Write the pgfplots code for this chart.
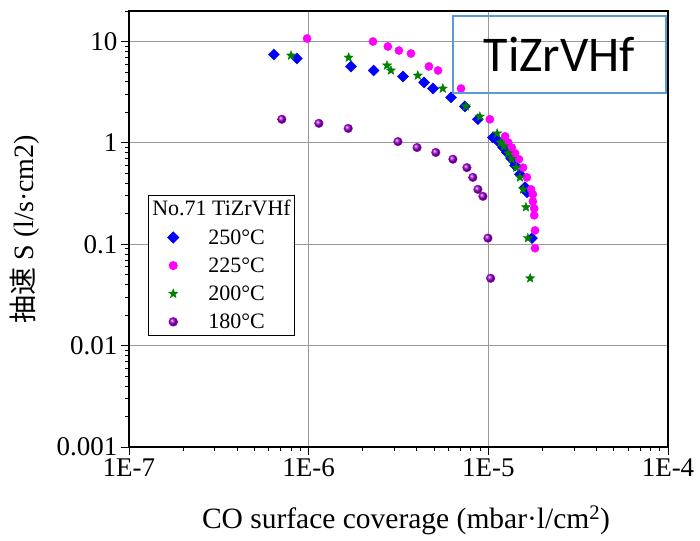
\documentclass[border=0pt]{standalone}
\usepackage{fontspec}
\setmainfont{Liberation Serif}
\newfontfamily\cjk{Noto Sans CJK SC}
\newfontfamily\carlito{Carlito}
\usepackage{pgfplots}
\pgfplotsset{compat=1.18}
\definecolor{boxblue}{HTML}{5B9BD5}
\definecolor{ballpurple}{HTML}{9900CC}
\definecolor{stargreen}{HTML}{008000}
\definecolor{mag}{HTML}{FF00FF}
\pgfdeclareplotmark{fstar}{%
  \pgfpathmoveto{\pgfqpointpolar{90}{\pgfplotmarksize}}%
  \pgfpathlineto{\pgfqpointpolar{126}{0.42\pgfplotmarksize}}%
  \pgfpathlineto{\pgfqpointpolar{162}{\pgfplotmarksize}}%
  \pgfpathlineto{\pgfqpointpolar{198}{0.42\pgfplotmarksize}}%
  \pgfpathlineto{\pgfqpointpolar{234}{\pgfplotmarksize}}%
  \pgfpathlineto{\pgfqpointpolar{270}{0.42\pgfplotmarksize}}%
  \pgfpathlineto{\pgfqpointpolar{306}{\pgfplotmarksize}}%
  \pgfpathlineto{\pgfqpointpolar{342}{0.42\pgfplotmarksize}}%
  \pgfpathlineto{\pgfqpointpolar{18}{\pgfplotmarksize}}%
  \pgfpathlineto{\pgfqpointpolar{54}{0.42\pgfplotmarksize}}%
  \pgfpathclose
  \pgfusepathqfillstroke}
\begin{document}
\begin{tikzpicture}
\useasboundingbox (0,0) rectangle (700pt,540pt);
\begin{axis}[
  at={(129pt,93pt)}, anchor=south west,
  scale only axis, width=539pt, height=436pt,
  xmode=log, ymode=log,
  xmin=1e-7, xmax=1e-4, ymin=1e-3, ymax=20,
  xtick={1e-7,1e-6,1e-5,1e-4}, xticklabels={1E-7,1E-6,1E-5,1E-4},
  ytick={1e-3,1e-2,1e-1,1,10}, yticklabels={0.001,0.01,0.1,1,10},
  minor xtick={2e-7,3e-7,4e-7,5e-7,6e-7,7e-7,8e-7,9e-7,2e-6,3e-6,4e-6,5e-6,6e-6,7e-6,8e-6,9e-6,2e-5,3e-5,4e-5,5e-5,6e-5,7e-5,8e-5,9e-5},
  minor ytick={2e-3,3e-3,4e-3,5e-3,6e-3,7e-3,8e-3,9e-3,2e-2,3e-2,4e-2,5e-2,6e-2,7e-2,8e-2,9e-2,0.2,0.3,0.4,0.5,0.6,0.7,0.8,0.9,2,3,4,5,6,7,8,9,20},
  tick align=outside, xtick pos=left, ytick pos=left,
  major tick length=8pt, minor tick length=4pt,
  xmajorgrids, ymajorgrids,
  major grid style={draw=black!40, line width=0.8pt},
  axis line style={line width=1.1pt},
  every tick/.style={black, line width=0.9pt},
  tick label style={font=\fontsize{27}{32}\selectfont},
  /pgf/number format/assume math mode=true,
  xlabel={CO surface coverage (mbar·l/cm\textsuperscript{2})},
  xlabel style={font=\fontsize{29.5}{34}\selectfont, at={(rel axis cs:0.514,0)}, anchor=center, yshift=-73pt},
  ylabel={{\cjk 抽速} S (l/s·cm2)},
  ylabel style={font=\fontsize{28}{32}\selectfont, at={(rel axis cs:-0.193,0.5)}, anchor=center},
  legend style={at={(rel axis cs:0.035,0.578)}, anchor=north west, draw=black, line width=0.8pt,
    font=\fontsize{22}{26}\selectfont, inner xsep=2pt, inner ysep=3pt, fill=white, row sep=8pt,
    /tikz/every odd column/.append style={column sep=10pt}},
  legend cell align=left,
  legend image code/.code={\path[draw=none,fill=none] (0pt,-4pt) rectangle (46pt,4pt); \draw[mark repeat=2,mark phase=2,#1] plot coordinates {(0pt,0pt)(23pt,0pt)(46pt,0pt)};},
]
\addlegendimage{empty legend}
\addlegendentry{\hspace{-56pt}No.71 TiZrVHf}

\addplot[only marks, color=blue, mark=square*, mark size=3.9pt, mark options={rotate=45, fill=blue, draw=blue}] coordinates {
(6.4e-7,7.45) (8.6e-7,6.8) (1.72e-6,5.67) (2.3e-6,5.18) (3.35e-6,4.52) (4.39e-6,3.95)
(4.92e-6,3.44) (6.2e-6,2.81) (7.4e-6,2.29) (8.75e-6,1.71) (1.06e-5,1.13) (1.12e-5,1.06)
(1.16e-5,1.0) (1.21e-5,0.90) (1.27e-5,0.805) (1.34e-5,0.70) (1.41e-5,0.60) (1.50e-5,0.49)
(1.60e-5,0.365) (1.64e-5,0.325) (1.75e-5,0.115)
};
\addlegendentry{250°C}

\addplot[only marks, color=mag, mark=*, mark size=4.1pt, mark options={fill=mag, draw=mag}] coordinates {
(9.8e-7,10.7) (2.28e-6,10.0) (2.76e-6,8.93) (3.18e-6,8.15) (3.71e-6,7.62) (4.67e-6,5.68)
(5.25e-6,5.18) (7.05e-6,3.44) (1.02e-5,1.71) (1.24e-5,1.16) (1.29e-5,1.01) (1.35e-5,0.90)
(1.41e-5,0.79) (1.48e-5,0.69) (1.56e-5,0.57) (1.64e-5,0.457) (1.73e-5,0.348) (1.77e-5,0.311)
(1.77e-5,0.265) (1.80e-5,0.226) (1.80e-5,0.193) (1.82e-5,0.137) (1.82e-5,0.0914)
};
\addlegendentry{225°C}

\addplot[only marks, color=stargreen, mark=fstar, mark size=4.8pt, mark options={fill=stargreen, draw=stargreen, line width=0.4pt}] coordinates {
(7.98e-7,7.28) (1.67e-6,6.95) (2.73e-6,5.81) (2.87e-6,5.18) (4.05e-6,4.62) (5.58e-6,3.44)
(7.5e-6,2.29) (8.97e-6,1.82) (1.12e-5,1.24) (1.17e-5,1.01) (1.22e-5,0.925) (1.29e-5,0.79)
(1.35e-5,0.69) (1.43e-5,0.57) (1.50e-5,0.457) (1.56e-5,0.348) (1.62e-5,0.232) (1.66e-5,0.115)
(1.71e-5,0.0462)
};
\addlegendentry{200°C}

\addplot[only marks, color=ballpurple, mark=ball, mark size=4.3pt, mark options={ball color=ballpurple}] coordinates {
(7.09e-7,1.71) (1.14e-6,1.56) (1.66e-6,1.39) (3.14e-6,1.03) (4.01e-6,0.90) (5.10e-6,0.805)
(6.35e-6,0.69) (7.6e-6,0.57) (8.2e-6,0.457) (8.75e-6,0.348) (9.33e-6,0.297) (9.95e-6,0.115)
(1.03e-5,0.0462)
};
\addlegendentry{180°C}
\end{axis}
\node[draw=boxblue, line width=2pt, minimum width=213pt, minimum height=77pt, inner sep=0pt,
  font=\carlito\fontsize{50}{60}\selectfont] at (559.5pt,485.5pt) {TiZrVHf};
\end{tikzpicture}
\end{document}
